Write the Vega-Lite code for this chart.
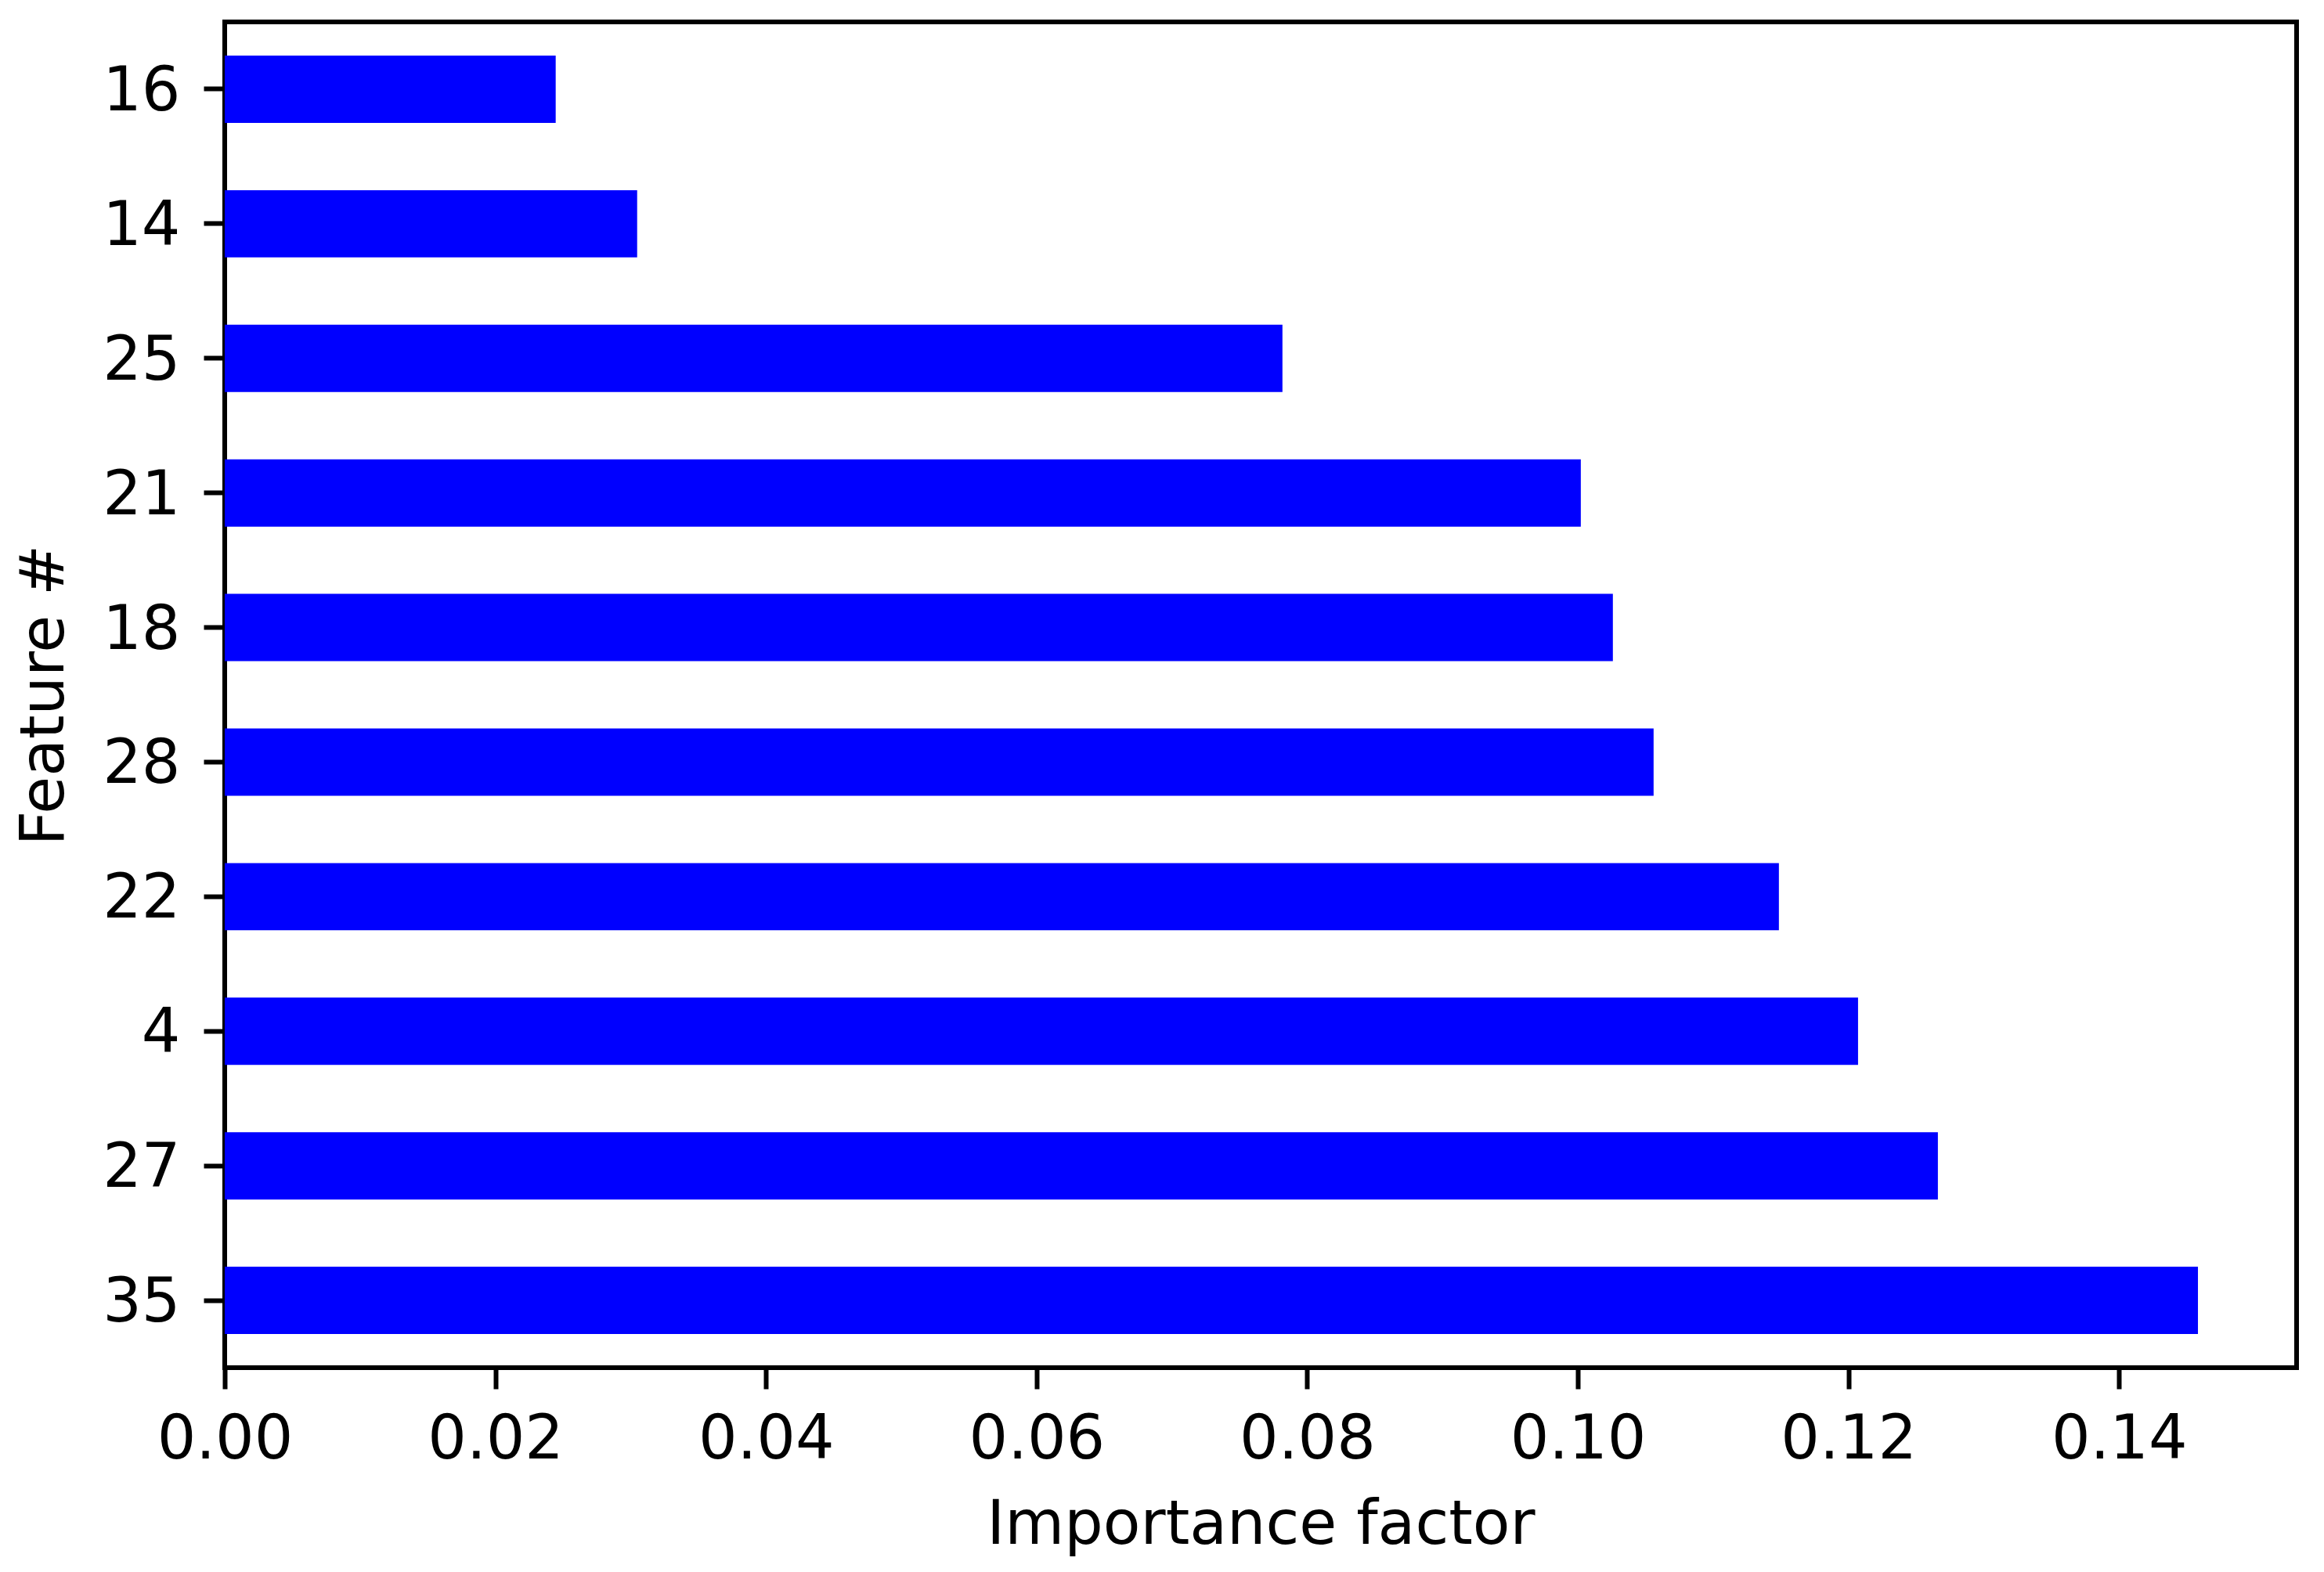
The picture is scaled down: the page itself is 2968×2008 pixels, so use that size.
{
  "$schema": "https://vega.github.io/schema/vega-lite/v6.json",
  "autosize": "none",
  "padding": {"left": 287, "top": 28, "right": 35, "bottom": 261},
  "width": 2646,
  "height": 1719,
  "background": "white",
  "config": {
    "font": "DejaVu Sans",
    "view": {"stroke": "black", "strokeWidth": 6},
    "axis": {
      "domain": false,
      "grid": false,
      "ticks": true,
      "tickColor": "black",
      "tickWidth": 6,
      "tickSize": 27,
      "labelFont": "DejaVu Sans",
      "labelFontSize": 78,
      "labelColor": "black",
      "titleFont": "DejaVu Sans",
      "titleFontSize": 78,
      "titleFontWeight": "normal",
      "titleColor": "black"
    }
  },
  "data": {
    "values": [
      {"feature": "16", "importance": 0.02446},
      {"feature": "14", "importance": 0.03048},
      {"feature": "25", "importance": 0.07817},
      {"feature": "21", "importance": 0.10022},
      {"feature": "18", "importance": 0.10259},
      {"feature": "28", "importance": 0.10560},
      {"feature": "22", "importance": 0.11486},
      {"feature": "4", "importance": 0.12071},
      {"feature": "27", "importance": 0.12661},
      {"feature": "35", "importance": 0.14583}
    ]
  },
  "mark": {"type": "bar", "color": "#0000ff"},
  "encoding": {
    "y": {
      "field": "feature",
      "type": "nominal",
      "sort": ["16", "14", "25", "21", "18", "28", "22", "4", "27", "35"],
      "scale": {"paddingInner": 0.5, "paddingOuter": 0.25},
      "axis": {"title": "Feature #", "labelPadding": 30, "titlePadding": 34, "labelAngle": 0, "labelOffset": 4}
    },
    "x": {
      "field": "importance",
      "type": "quantitative",
      "scale": {"domain": [0, 0.15312], "nice": false, "zero": true},
      "axis": {
        "title": "Importance factor",
        "values": [0, 0.02, 0.04, 0.06, 0.08, 0.1, 0.12, 0.14],
        "format": ".2f",
        "labelPadding": 26,
        "titlePadding": 31,
        "labelFlush": false
      }
    }
  }
}
